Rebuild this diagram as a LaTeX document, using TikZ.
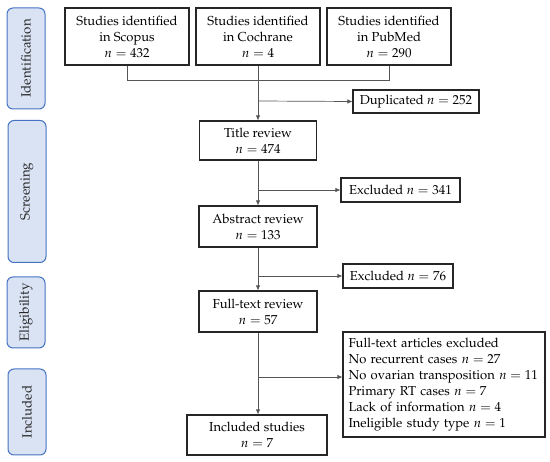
\documentclass[tikz,border=0pt]{standalone}
\usepackage[T1]{fontenc}
\usepackage{mathpazo}
\usetikzlibrary{arrows.meta}
\definecolor{sidefill}{HTML}{DAE3F3}
\definecolor{sideline}{HTML}{4472C4}
\definecolor{conn}{HTML}{555555}
\begin{document}
\begin{tikzpicture}[x=1pt,y=-1pt,
  box/.style={draw=black!85, line width=1.1pt, inner sep=0pt, align=center,
    font=\fontsize{13}{16}\selectfont, text=black},
  side/.style={draw=sideline, fill=sidefill, line width=1pt, rounded corners=6pt,
    inner sep=0pt},
  sidetext/.style={rotate=90, font=\fontsize{13.3}{16}\selectfont, text=black!85},
  conline/.style={draw=conn, line width=0.7pt},
  arr/.style={conline, -{Latex[length=5pt,width=4.5pt]}}
]
\useasboundingbox (0,0) rectangle (550,462);
% side labels
\node[side, minimum width=38pt, minimum height=101pt] (sid) at (26,58.5) {};
\node[sidetext] (tid) at (sid.center) {Identification};
\node[side, minimum width=38pt, minimum height=142pt] (ssc) at (27,191.5) {};
\node[sidetext] (tsc) at (ssc.center) {Screening};
\node[side, minimum width=38pt, minimum height=71pt] (sel) at (26,312.5) {};
\node[sidetext] (tel) at (sel.center) {Eligibility};
\node[side, minimum width=38pt, minimum height=86pt] (sin) at (27,412) {};
\node[sidetext] (tin) at (sin.center) {Included};
% boxes
\node[box, minimum width=124pt, minimum height=57pt] (scopus) at (127,36.5) {Studies identified\\in Scopus\\$n = 432$};
\node[box, minimum width=124pt, minimum height=57pt] (cochrane) at (258,36.5) {Studies identified\\in Cochrane\\$n = 4$};
\node[box, minimum width=124pt, minimum height=57pt] (pubmed) at (389,36.5) {Studies identified\\in PubMed\\$n = 290$};
\node[box, minimum width=126pt, minimum height=23pt] (dup) at (416,101.5) {Duplicated $n = 252$};
\node[box, minimum width=117pt, minimum height=39pt] (title) at (258,140.5) {Title review\\$n = 474$};
\node[box, minimum width=119pt, minimum height=24pt] (ex1) at (400.5,190) {Excluded $n = 341$};
\node[box, minimum width=118pt, minimum height=41pt] (abstract) at (258,226.5) {Abstract review\\$n = 133$};
\node[box, minimum width=110pt, minimum height=24pt] (ex2) at (398,276) {Excluded $n = 76$};
\node[box, minimum width=118pt, minimum height=41pt] (full) at (258,311.5) {Full-text review\\$n = 57$};
\node[box, minimum width=202pt, minimum height=105pt, align=left, text width=191pt] (ex3) at (444,384.5) {Full-text articles excluded\\No recurrent cases $n = 27$\\No ovarian transposition $n = 11$\\Primary RT cases $n = 7$\\Lack of information $n = 4$\\Ineligible study type $n = 1$};
\node[box, minimum width=140pt, minimum height=40pt] (incl) at (257,435) {Included studies\\$n = 7$};
% connectors
\draw[conline] (scopus.south) -- (127,80) -- (389,80) -- (pubmed.south);
\draw[arr] (cochrane.south) -- (title.north);
\coordinate (b1) at (258,101);
\draw[arr] (b1) -- (dup.west);
\draw[arr] (title.south) -- (abstract.north);
\coordinate (b2) at (258,190);
\draw[arr] (b2) -- (ex1.west);
\draw[arr] (abstract.south) -- (full.north);
\coordinate (b3) at (258,276);
\draw[arr] (b3) -- (ex2.west);
\draw[arr] (full.south) -- (full.south |- incl.north);
\coordinate (b4) at (258,377);
\draw[arr] (b4) -- (b4 -| ex3.west);
\end{tikzpicture}
\end{document}
